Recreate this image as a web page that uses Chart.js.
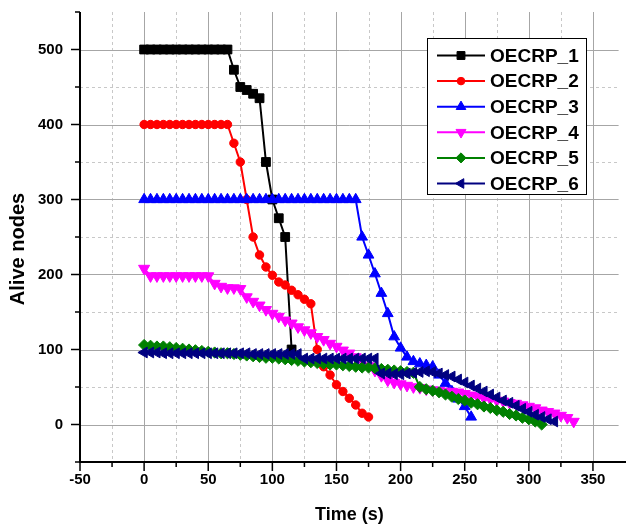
<!DOCTYPE html>
<html><head><meta charset="utf-8">
<script src="https://cdn.jsdelivr.net/npm/chart.js@4.4.0/dist/chart.umd.min.js"></script>
<style>html,body{margin:0;padding:0;background:#fff;overflow:hidden}#wrap{width:626px;height:524px;position:relative}</style>
</head><body><div id="wrap"><canvas id="c" width="626" height="524"></canvas></div>
<script>
// ---- data ----
const seriesNames = ['OECRP_1','OECRP_2','OECRP_3','OECRP_4','OECRP_5','OECRP_6'];
const s1x = [0,5,10,15,20,25,30,35,40,45,50,55,60,65,70,75,80,85,90,95,100,105,110,115];
const s1y = [500,500,500,500,500,500,500,500,500,500,500,500,500,500,473,450,446,441,435,350,300,275,250,100];
const s2x = [0,5,10,15,20,25,30,35,40,45,50,55,60,65,70,75,80,85,90,95,100,105,110,115,120,125,130,135,140,145,150,155,160,165,170,175];
const s2y = [400,400,400,400,400,400,400,400,400,400,400,400,400,400,375,350,300,250,226,210,199,190,186,179,173,167,161,100,77,66,53,44,35,26,15,10];
const s3x = [0,5,10,15,20,25,30,35,40,45,50,55,60,65,70,75,80,85,90,95,100,105,110,115,120,125,130,135,140,145,150,155,160,165,170,175,180,185,190,195,200,205,210,215,220,225,230,235,240,245,250,255];
const s3y = [300,300,300,300,300,300,300,300,300,300,300,300,300,300,300,300,300,300,300,300,300,300,300,300,300,300,300,300,300,300,300,300,300,300,250,226,201,175,148,117,102,90,84,81,79,77,66,55,44,34,24,10];
const s4x = [0,5,10,15,20,25,30,35,40,45,50,55,60,65,70,75,80,85,90,95,100,105,110,115,120,125,130,135,140,145,150,155,160,165,170,175,180,185,190,195,200,205,210,215,220,225,230,235,240,245,250,255,260,265,270,275,280,285,290,295,300,305,310,315,320,325,330,335];
const s4y = [208,198,198,198,198,198,198,198,198,198,198,188,184,182,182,181,170,164,159,153,148,144,139,135,130,126,122,117,113,108,104,99,95,90,85,78,72,65,59,56,54,52,50,49,47,46,45,44,44,43,41,39,37,35,34,32,31,29,28,26,24,22,19,17,15,12,9,4];
const s5x = [0,5,10,15,20,25,30,35,40,45,50,55,60,65,70,75,80,85,90,95,100,105,110,115,120,125,130,135,140,145,150,155,160,165,170,175,180,185,190,195,200,205,210,215,220,225,230,235,240,245,250,255,260,265,270,275,280,285,290,295,300,305,310];
const s5y = [106,105,104,104,103,102,101,100,99,98,97,96,95,95,94,93,92,91,90,89,89,88,87,86,85,84,83,82,81,80,80,79,78,77,76,76,75,74,73,72,71,70,69,50,47,45,43,40,37,34,32,29,27,24,22,19,17,14,12,9,7,4,0];
const s6x = [0,5,10,15,20,25,30,35,40,45,50,55,60,65,70,75,80,85,90,95,100,105,110,115,120,125,130,135,140,145,150,155,160,165,170,175,180,185,190,195,200,205,210,215,220,225,230,235,240,245,250,255,260,265,270,275,280,285,290,295,300,305,310,315,320];
const s6y = [96,96,96,95,95,95,95,95,95,95,95,95,95,95,95,95,95,94,94,94,94,94,94,94,94,88,88,88,88,88,88,88,88,88,88,88,88,68,68,67,67,68,69,70,71,70,68,66,64,60,56,52,48,44,40,36,32,29,25,21,17,13,10,7,4];
const xTickValues = [-50,0,50,100,150,200,250,300,350];
const xMinorValues = [-25,25,75,125,175,225,275,325];
const yTickValues = [0,100,200,300,400,500];
const yMinorValues = [-50,50,150,250,350,450,550];

// ---- styles ----
const colors = ['#000000','#ff0000','#0000ff','#ff00ff','#008000','#000080'];
const pStyles = ['rect','circle','triangle','triangle','rectRot','triangle'];
const pRot = [0,0,0,180,0,-90];
const pRad = [6.2,4.2,6.2,6.4,5.6,6.2];

const xs=[s1x,s2x,s3x,s4x,s5x,s6x], ys=[s1y,s2y,s3y,s4y,s5y,s6y];
const datasets = seriesNames.map((n,i)=>({
  label:n,
  data: xs[i].map((x,j)=>({x:x,y:ys[i][j]})),
  borderColor:colors[i], backgroundColor:colors[i],
  pointBackgroundColor:colors[i], pointBorderColor:colors[i],
  borderWidth:2, pointStyle:pStyles[i], pointRotation:pRot[i], pointRadius:pRad[i],
  pointBorderWidth:1, tension:0, fill:false, order:6-i
}));

function marker(ctx, style, rot, r, x, y, color){
  ctx.save(); ctx.fillStyle=color; ctx.strokeStyle=color; ctx.lineWidth=1;
  if (Chart.helpers && Chart.helpers.drawPoint){
    Chart.helpers.drawPoint(ctx,{pointStyle:style,rotation:rot,radius:r,borderWidth:1},x,y);
  } else {
    ctx.beginPath(); ctx.arc(x,y,r,0,Math.PI*2); ctx.fill(); ctx.stroke();
  }
  ctx.restore();
}

const bgPlugin = { id:'bg', beforeDraw(chart){ const c=chart.ctx; c.save(); c.fillStyle='#fff'; c.fillRect(0,0,chart.width,chart.height); c.restore(); } };

const gridPlugin = { id:'grid', beforeDatasetsDraw(chart){
  const {ctx, chartArea:a, scales:{x,y}} = chart;
  ctx.save(); ctx.lineWidth=1;
  ctx.strokeStyle='#c8c8c8'; ctx.setLineDash([3,3]);
  xMinorValues.forEach(v=>{ const p=Math.round(x.getPixelForValue(v))+0.5; ctx.beginPath(); ctx.moveTo(p,a.top); ctx.lineTo(p,a.bottom); ctx.stroke(); });
  yMinorValues.forEach(v=>{ if(v<=-50||v>=550) return; const p=Math.round(y.getPixelForValue(v))+0.5; ctx.beginPath(); ctx.moveTo(a.left,p); ctx.lineTo(a.right,p); ctx.stroke(); });
  ctx.setLineDash([]); ctx.strokeStyle='#a6a6a6';
  xTickValues.forEach(v=>{ if(v<=-50) return; const p=Math.round(x.getPixelForValue(v))+0.5; ctx.beginPath(); ctx.moveTo(p,a.top); ctx.lineTo(p,a.bottom); ctx.stroke(); });
  yTickValues.forEach(v=>{ const p=Math.round(y.getPixelForValue(v))+0.5; ctx.beginPath(); ctx.moveTo(a.left,p); ctx.lineTo(a.right,p); ctx.stroke(); });
  ctx.restore();
}};

const axesPlugin = { id:'axes', afterDraw(chart){
  const {ctx, chartArea:a, scales:{x,y}} = chart;
  ctx.save(); ctx.strokeStyle='#000';
  ctx.lineWidth=1.5;
  xTickValues.forEach(v=>{ const p=x.getPixelForValue(v); ctx.beginPath(); ctx.moveTo(p,a.bottom); ctx.lineTo(p,a.bottom+9); ctx.stroke(); });
  xMinorValues.forEach(v=>{ const p=x.getPixelForValue(v); ctx.beginPath(); ctx.moveTo(p,a.bottom); ctx.lineTo(p,a.bottom+5); ctx.stroke(); });
  yTickValues.forEach(v=>{ const p=y.getPixelForValue(v); ctx.beginPath(); ctx.moveTo(a.left-9,p); ctx.lineTo(a.left,p); ctx.stroke(); });
  yMinorValues.forEach(v=>{ const p=y.getPixelForValue(v); ctx.beginPath(); ctx.moveTo(a.left-5,p); ctx.lineTo(a.left,p); ctx.stroke(); });
  ctx.lineWidth=2;
  ctx.beginPath(); ctx.moveTo(a.left,a.top); ctx.lineTo(a.left,a.bottom+1); ctx.stroke();
  ctx.beginPath(); ctx.moveTo(a.left-1,a.bottom); ctx.lineTo(chart.width,a.bottom); ctx.stroke();
  ctx.fillStyle='#000'; ctx.font='bold 20px "Liberation Sans", Arial, sans-serif';
  ctx.textAlign='center'; ctx.textBaseline='middle';
  ctx.translate(18,249); ctx.rotate(-Math.PI/2); ctx.fillText('Alive nodes',0,0);
  ctx.restore();
  // legend
  ctx.save();
  const L=427,T=38,R=586,B=194;
  ctx.fillStyle='#fff'; ctx.fillRect(L,T,R-L,B-T);
  ctx.strokeStyle='#000'; ctx.lineWidth=1; ctx.strokeRect(L+0.5,T+0.5,R-L,B-T);
  ctx.font='bold 19px "Liberation Sans", Arial, sans-serif'; ctx.textBaseline='middle'; ctx.textAlign='left';
  seriesNames.forEach((n,i)=>{
    const yy=55.5+i*25.6;
    ctx.strokeStyle=colors[i]; ctx.lineWidth=2;
    ctx.beginPath(); ctx.moveTo(437,yy); ctx.lineTo(485,yy); ctx.stroke();
    marker(ctx,pStyles[i],pRot[i],pRad[i]*0.9,461,yy,colors[i]);
    ctx.fillStyle='#000'; ctx.fillText(n,490,yy+1);
  });
  ctx.restore();
}};

Chart.defaults.font.family='"Liberation Sans", Arial, sans-serif';
new Chart(document.getElementById('c'),{
  type:'line',
  data:{datasets:datasets},
  plugins:[bgPlugin,gridPlugin,axesPlugin],
  options:{
    responsive:false, animation:false, devicePixelRatio:1,
    layout:{padding:{top:12,right:0,left:0,bottom:0}},
    plugins:{legend:{display:false},tooltip:{enabled:false}},
    scales:{
      x:{type:'linear',position:'bottom',min:-50,max:370,
        afterBuildTicks:(s)=>{ s.ticks = xTickValues.map(v=>({value:v})); },
        afterFit:(s)=>{ s.height=62; s.paddingLeft=0; s.paddingRight=0; s.paddingTop=0; s.paddingBottom=0; },
        grid:{display:false,drawTicks:false}, border:{display:false},
        ticks:{padding:9,color:'#000',font:{size:15,weight:'bold'},maxRotation:0,autoSkip:false,callback:(v)=>String(v)},
        title:{display:true,text:'Time (s)',color:'#000',font:{size:18,weight:'bold'},padding:{top:0,bottom:-2}}
      },
      y:{type:'linear',min:-50,max:550,
        afterBuildTicks:(s)=>{ s.ticks = yTickValues.map(v=>({value:v})); },
        afterFit:(s)=>{ s.width=80; s.paddingTop=0; s.paddingBottom=0; s.paddingLeft=0; s.paddingRight=0; },
        grid:{display:false,drawTicks:false}, border:{display:false},
        ticks:{padding:17,color:'#000',font:{size:15,weight:'bold'},autoSkip:false,callback:(v)=>String(v)}
      }
    }
  }
});
</script></body></html>
